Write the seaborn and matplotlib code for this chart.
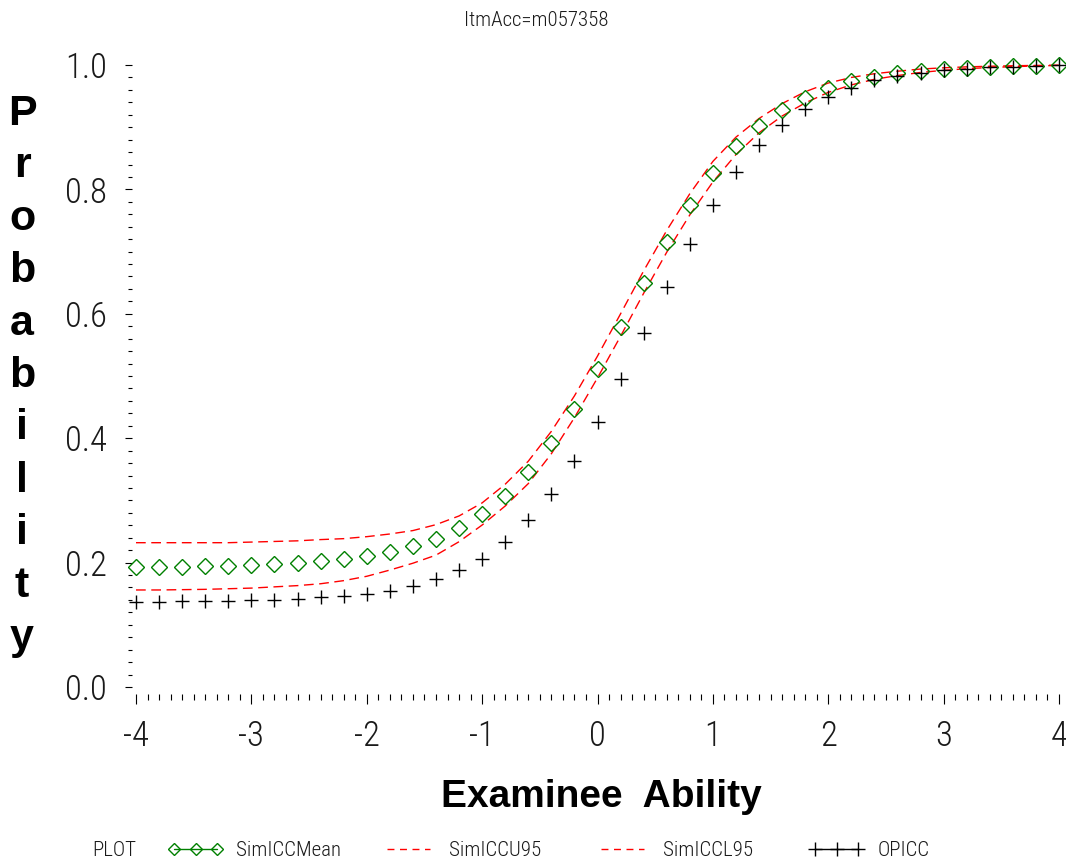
import matplotlib
matplotlib.use("Agg")
import matplotlib.pyplot as plt
import seaborn as sns
import pandas as pd
from matplotlib.lines import Line2D
from matplotlib.ticker import MultipleLocator, FixedLocator

# ---------------- data ----------------
ability = [-4.0, -3.8, -3.6, -3.4, -3.2, -3.0, -2.8, -2.6, -2.4, -2.2, -2.0,
           -1.8, -1.6, -1.4, -1.2, -1.0, -0.8, -0.6, -0.4, -0.2,
           0.0, 0.2, 0.4, 0.6, 0.8, 1.0, 1.2, 1.4, 1.6, 1.8, 2.0,
           2.2, 2.4, 2.6, 2.8, 3.0, 3.2, 3.4, 3.6, 3.8, 4.0]
sim_icc_mean = [0.1935, 0.1935, 0.1937, 0.1942, 0.1948, 0.1958, 0.1975, 0.1998, 0.2020, 0.2053, 0.2100,
                0.2176, 0.2262, 0.2380, 0.2553, 0.2778, 0.3070, 0.3457, 0.3928, 0.4475,
                0.5120, 0.5795, 0.6490, 0.7150, 0.7750, 0.8270, 0.8690, 0.9020, 0.9280, 0.9470, 0.9630,
                0.9740, 0.9810, 0.9866, 0.9910, 0.9936, 0.9957, 0.9968, 0.9980, 0.9990, 0.9995]
sim_icc_u95 = [0.232, 0.232, 0.232, 0.232, 0.232, 0.233, 0.234, 0.235, 0.237, 0.2385, 0.2417,
               0.246, 0.2515, 0.261, 0.275, 0.296, 0.326, 0.363, 0.411, 0.468,
               0.532, 0.600, 0.669, 0.734, 0.793, 0.845, 0.884, 0.914, 0.938, 0.957, 0.971,
               0.980, 0.986, 0.990, 0.9935, 0.9955, 0.997, 0.998, 0.9988, 0.9993, 0.9997]
sim_icc_l95 = [0.156, 0.156, 0.1565, 0.157, 0.158, 0.159, 0.161, 0.163, 0.166, 0.171, 0.178,
               0.188, 0.199, 0.212, 0.2336, 0.2604, 0.291, 0.327, 0.375, 0.433,
               0.497, 0.564, 0.633, 0.699, 0.759, 0.812, 0.856, 0.891, 0.918, 0.939, 0.956,
               0.968, 0.977, 0.983, 0.988, 0.9915, 0.994, 0.996, 0.9973, 0.9985, 0.9993]
opicc = [0.1365, 0.1370, 0.1375, 0.1380, 0.1387, 0.1395, 0.1405, 0.1420, 0.1440, 0.1465, 0.1500,
         0.1550, 0.1630, 0.1736, 0.1881, 0.2063, 0.2331, 0.2680, 0.3098, 0.3633,
         0.4255, 0.4950, 0.5686, 0.6436, 0.7130, 0.7755, 0.8274, 0.8710, 0.9040, 0.9300, 0.9490,
         0.9636, 0.9760, 0.9820, 0.9877, 0.9920, 0.9940, 0.9960, 0.9970, 0.9990, 0.9995]
series_names = ["SimICCMean", "SimICCU95", "SimICCL95", "OPICC"]
x_ticks = [-4, -3, -2, -1, 0, 1, 2, 3, 4]
x_tick_labels = ["-4", "-3", "-2", "-1", "0", "1", "2", "3", "4"]
y_ticks = [0.0, 0.2, 0.4, 0.6, 0.8, 1.0]
y_tick_labels = ["0.0", "0.2", "0.4", "0.6", "0.8", "1.0"]
title_text = "ItmAcc=m057358"
x_label = "Examinee  Ability"
y_label = "Probability"
legend_title = "PLOT"

df = pd.DataFrame({"ability": ability, "SimICCMean": sim_icc_mean,
                   "SimICCU95": sim_icc_u95, "SimICCL95": sim_icc_l95, "OPICC": opicc})

# ---------------- style ----------------
sns.set_theme(style="white")
plt.rcParams["font.family"] = ["Roboto Condensed", "DejaVu Sans"]

W, H = 1066, 865
fig = plt.figure(figsize=(W / 100, H / 100), dpi=100)
ax = fig.add_axes([136 / W, 1 - 687 / H, 923 / W, 622 / H])

red = "#ff0000"
green = "#008000"
dash = (0, (7, 4))
thin = dict(family=["Roboto Condensed", "DejaVu Sans"], weight=300)

sns.lineplot(data=df, x="ability", y="SimICCU95", ax=ax, color=red, lw=1.0,
             linestyle=dash, errorbar=None, clip_on=False)
sns.lineplot(data=df, x="ability", y="SimICCL95", ax=ax, color=red, lw=1.0,
             linestyle=dash, errorbar=None, clip_on=False)
sns.lineplot(data=df, x="ability", y="SimICCMean", ax=ax, color=green, linestyle="none",
             marker="D", markersize=7.8, markerfacecolor="none", markeredgecolor=green,
             markeredgewidth=1.0, errorbar=None, clip_on=False)
sns.lineplot(data=df, x="ability", y="OPICC", ax=ax, color="black", linestyle="none",
             marker="+", markersize=10, markeredgecolor="black",
             markeredgewidth=1.0, errorbar=None, clip_on=False)

ax.set_xlim(-4, 4)
ax.set_ylim(0, 1)
for s in ax.spines.values():
    s.set_visible(False)
ax.spines["bottom"].set_position(("outward", 5))
ax.spines["left"].set_position(("outward", 3))

ax.xaxis.set_major_locator(FixedLocator(x_ticks))
ax.set_xticklabels(x_tick_labels)
ax.xaxis.set_minor_locator(MultipleLocator(0.1))
ax.yaxis.set_major_locator(FixedLocator(y_ticks))
ax.set_yticklabels(y_tick_labels)
ax.yaxis.set_minor_locator(MultipleLocator(0.02))

ax.tick_params(axis="x", which="major", direction="out", length=7.2, width=0.8,
               color="black", pad=11, bottom=True)
ax.tick_params(axis="x", which="minor", direction="out", length=4.3, width=0.8,
               color="black", bottom=True)
ax.tick_params(axis="y", which="major", direction="out", length=5, width=0.8,
               color="black", pad=13, left=True)
ax.tick_params(axis="y", which="minor", direction="out", length=3.2, width=0.8,
               color="black", left=True)
for lab in ax.get_xticklabels() + ax.get_yticklabels():
    lab.set_fontfamily(["Roboto Condensed", "DejaVu Sans"])
    lab.set_fontsize(25)
    lab.set_fontweight(300)
    lab.set_color("#1a1a1a")

ax.set_xlabel(x_label, fontsize=28, fontweight="bold", family="Liberation Sans", color="black")
ax.xaxis.set_label_coords(0.504, -0.177)
ax.xaxis.label.set_va("center")
ax.set_ylabel("\n".join(y_label), rotation=0, fontsize=31, fontweight="bold",
              family="Liberation Sans", color="black", linespacing=1.40)
ax.yaxis.set_label_coords(-0.1235, 0.50)
ax.yaxis.label.set_va("center")
ax.yaxis.label.set_ha("center")

fig.text(536 / W, 1 - 20 / H, title_text, ha="center", va="center", fontsize=15,
         color="#1a1a1a", **thin)

handles = [
    Line2D([], [], color=green, lw=1, marker="D", ms=6.5, mfc="none", mec=green, mew=1),
    Line2D([], [], color=red, lw=1, linestyle=(0, (5, 4))),
    Line2D([], [], color=red, lw=1, linestyle=(0, (5, 4))),
    Line2D([], [], color="black", lw=1, marker="+", ms=10, mec="black", mew=1),
]
legend_x = [168, 381, 595, 809]
for h, name, lx in zip(handles, series_names, legend_x):
    leg = fig.legend([h], [name], loc="center left",
                     bbox_to_anchor=(lx / W, 1 - 851 / H), frameon=False,
                     numpoints=3, prop=dict(size=15, **thin), handlelength=2.65,
                     handletextpad=0.63, borderpad=0, borderaxespad=0)
    for t in leg.get_texts():
        t.set_color("#1a1a1a")
fig.text(92 / W, 1 - 851 / H, legend_title, ha="left", va="center", fontsize=15,
         color="#1a1a1a", **thin)

fig.savefig("out.png", dpi=100)
